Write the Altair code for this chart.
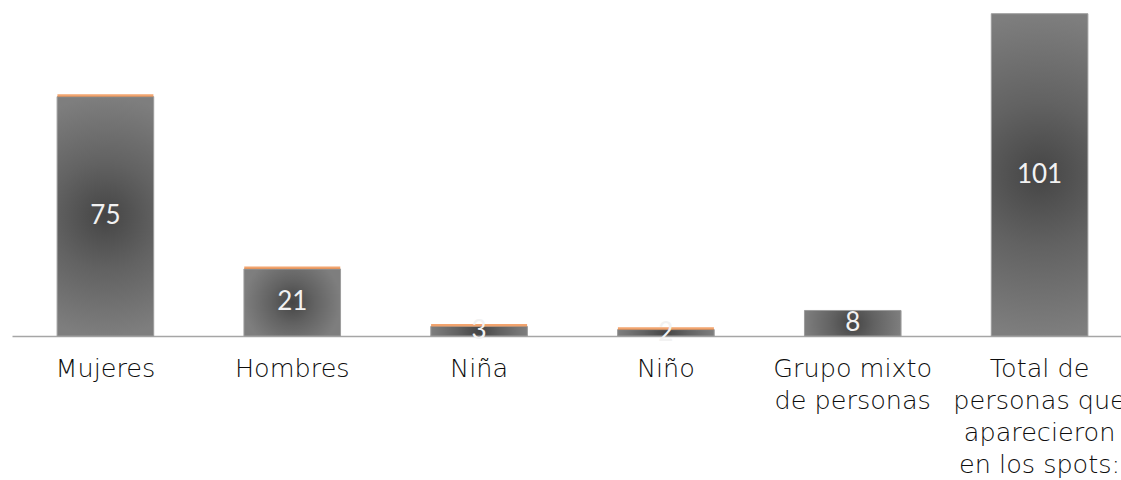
import altair as alt
import pandas as pd

# Personas que aparecieron en los spots, por categoría
categorias = [
    "Mujeres",
    "Hombres",
    "Niña",
    "Niño",
    "Grupo mixto\nde personas",
    "Total de\npersonas que\naparecieron\nen los spots:",
]
personas = [75, 21, 3, 2, 8, 101]
# categorías individuales (llevan remate naranja) frente a agregados
individual = [True, True, True, True, False, False]

df = pd.DataFrame({"categoria": categorias, "personas": personas, "individual": individual})

LABEL_FONT = "DejaVu Sans"
NUM_FONT = "Lato"

x_enc = alt.X(
    "categoria:N",
    sort=categorias,
    scale=alt.Scale(range=[0, 1121], paddingInner=0.483, paddingOuter=0.2415),
    axis=alt.Axis(
        title=None,
        ticks=False,
        domainColor="#a6a6a6",
        domainWidth=1.5,
        labelAngle=0,
        labelFont=LABEL_FONT,
        labelFontSize=25.5,
        labelFontWeight=200,
        labelColor="#0d0d0d",
        labelLineHeight=32,
        labelBaseline="top",
        labelPadding=20,
        labelLimit=400,
        labelOverlap=False,
        labelExpr="split(datum.label, '\\n')",
    ),
)
y_scale = alt.Scale(domain=[0, 105.3], nice=False)

relleno = alt.RadialGradient(
    gradient="radial",
    stops=[
        alt.GradientStop(offset=0, color="#454545"),
        alt.GradientStop(offset=0.45, color="#626262"),
        alt.GradientStop(offset=1, color="#7e7e7e"),
    ],
    x1=0.5, y1=0.5, r1=0, x2=0.5, y2=0.5, r2=0.5,
)

base = alt.Chart(df)

barras = base.mark_bar(
    color=relleno, stroke="#9c9c9c", strokeWidth=1
).encode(
    x=x_enc,
    y=alt.Y("personas:Q", scale=y_scale, axis=None),
)

remate = base.transform_filter("datum.individual").mark_tick(
    color="#ED7D31", thickness=2.5, size=96, orient="horizontal", yOffset=-1.2
).encode(
    x=alt.X("categoria:N", sort=categorias),
    y=alt.Y("personas:Q", scale=y_scale),
)

etiquetas = base.transform_calculate(mitad="datum.personas / 2").mark_text(
    font=NUM_FONT, fontSize=26, color="#f2f2f2", baseline="middle", align="center"
).encode(
    x=alt.X("categoria:N", sort=categorias),
    y=alt.Y("mitad:Q", scale=y_scale),
    text="personas:Q",
)

chart = (
    alt.layer(barras, remate, etiquetas)
    .properties(
        width=1109,
        height=336,
        autosize=alt.AutoSizeParams(type="none"),
        padding={"left": 12, "top": 0, "right": 0, "bottom": 144},
        background="white",
    )
    .configure_view(stroke=None)
)

chart.save("out.html", embed_options={"renderer": "svg", "actions": False})
